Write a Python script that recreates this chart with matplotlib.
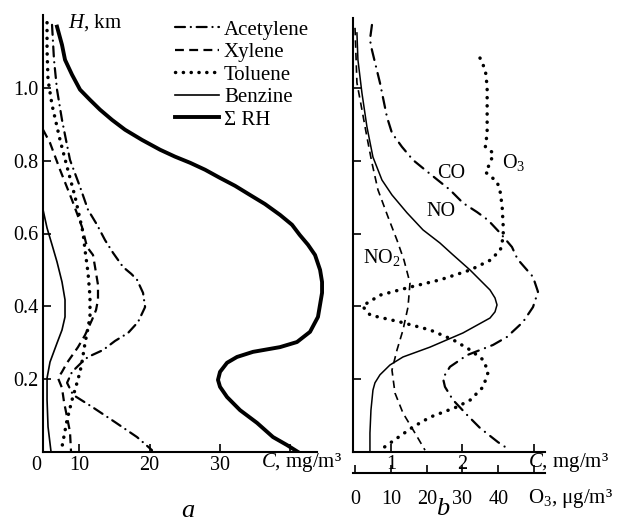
import matplotlib
matplotlib.use('Agg')
import matplotlib.pyplot as plt

plt.rcParams['font.family'] = ['Liberation Serif', 'DejaVu Serif']
plt.rcParams['mathtext.fontset'] = 'custom'
plt.rcParams['mathtext.rm'] = 'Liberation Serif'
plt.rcParams['mathtext.it'] = 'Liberation Serif:italic'

# ---- panel a: hydrocarbons, C in mg/m3, H in km ----
acet_c = [6.10, 6.38, 6.81, 7.52, 8.66, 10.09, 11.23, 12.51, 13.65, 14.79, 16.22, 17.40, 18.21,
          19.07, 19.36, 18.36, 16.94, 15.08, 13.37, 11.23, 10.37, 8.95, 8.24, 9.09, 11.80,
          15.08, 18.21, 20.35]
acet_h = [1.173, 1.077, 0.995, 0.912, 0.802, 0.728, 0.665, 0.624, 0.582, 0.547, 0.508, 0.489, 0.473,
          0.437, 0.398, 0.357, 0.327, 0.305, 0.280, 0.261, 0.247, 0.220, 0.190, 0.157, 0.124,
          0.082, 0.041, 0.005]

xyl_c = [4.82, 5.81, 7.24, 8.95, 10.37, 11.09, 11.94, 12.23, 12.65, 12.65, 12.37, 11.80,
         10.80, 9.80, 8.24, 7.52, 6.95, 7.52, 7.81, 8.24, 8.66, 8.81]
xyl_h = [0.885, 0.849, 0.775, 0.692, 0.618, 0.563, 0.541, 0.508, 0.459, 0.418, 0.390, 0.363,
         0.321, 0.288, 0.245, 0.220, 0.203, 0.176, 0.137, 0.096, 0.055, 0.0]

tol_c = [5.39, 5.39, 5.53, 6.10, 7.24, 8.24, 9.38, 10.52, 10.80, 11.23, 11.51, 11.51,
         11.09, 10.80, 10.37, 10.09, 9.66, 8.95, 8.24, 7.52]
tol_h = [1.179, 1.104, 1.022, 0.953, 0.857, 0.783, 0.701, 0.602, 0.555, 0.492, 0.426, 0.371,
         0.327, 0.299, 0.247, 0.220, 0.190, 0.143, 0.088, 0.014]

benz_c = [4.82, 5.39, 6.10, 6.81, 7.52, 7.95, 7.95, 7.52, 6.81, 5.81, 5.39, 5.39, 5.53, 5.96]
benz_h = [0.665, 0.615, 0.569, 0.522, 0.467, 0.418, 0.371, 0.335, 0.299, 0.247, 0.203, 0.143,
          0.069, 0.0]

rh_c = [6.81, 7.52, 7.95, 8.95, 10.09, 11.51, 12.94, 14.65, 16.5, 18.92, 21.5, 23.63, 25.8,
        27.92, 30.0, 32.18, 34.3, 36.44, 38.6, 40.3, 41.4, 42.58, 43.58, 44.3, 44.58, 44.58,
        44.0, 42.87, 41.01, 38.59, 34.74, 32.46, 31.04, 30.04, 29.75, 30.04, 31.04, 32.89,
        35.31, 37.59, 39.59, 41.16]
rh_h = [1.168, 1.118, 1.077, 1.036, 0.995, 0.967, 0.940, 0.912, 0.885, 0.857, 0.830, 0.811,
        0.794, 0.775, 0.753, 0.731, 0.706, 0.681, 0.651, 0.624, 0.596, 0.569, 0.541, 0.500,
        0.467, 0.437, 0.371, 0.330, 0.302, 0.288, 0.275, 0.261, 0.245, 0.220, 0.198, 0.179,
        0.151, 0.115, 0.080, 0.041, 0.019, 0.0]

# ---- panel b: NO, NO2, CO in mg/m3, O3 in ug/m3 ----
no_c = [0.524, 0.538, 0.594, 0.664, 0.748, 0.874, 1.014, 1.224, 1.448, 1.685, 1.853, 2.105,
        2.385, 2.455, 2.483, 2.455, 2.385, 2.007, 1.545, 1.168, 0.986, 0.846, 0.776, 0.748,
        0.720, 0.706, 0.706]
no_h = [1.151, 1.077, 0.986, 0.893, 0.810, 0.747, 0.706, 0.657, 0.610, 0.574, 0.544, 0.500,
        0.445, 0.423, 0.404, 0.385, 0.368, 0.327, 0.288, 0.261, 0.239, 0.212, 0.190, 0.170,
        0.115, 0.052, 0.0]

no2_c = [0.497, 0.524, 0.594, 0.664, 0.734, 0.818, 0.958, 1.084, 1.182, 1.266, 1.238, 1.168,
         1.084, 1.014, 1.056, 1.168, 1.336, 1.476]
no2_h = [1.165, 1.014, 0.940, 0.865, 0.794, 0.720, 0.646, 0.582, 0.527, 0.464, 0.398, 0.335,
         0.280, 0.225, 0.162, 0.107, 0.052, 0.005]

co_c = [0.734, 0.706, 0.734, 0.846, 0.944, 1.014, 1.154, 1.308, 1.476, 1.685, 1.825, 2.007,
        2.203, 2.357, 2.524, 2.692, 2.762, 2.804, 2.986, 3.056, 2.986, 2.846, 2.622, 2.427,
        2.245, 2.063, 1.825, 1.727, 1.755, 1.867, 2.063, 2.245, 2.497, 2.664]
co_h = [1.173, 1.132, 1.104, 1.014, 0.920, 0.876, 0.838, 0.802, 0.775, 0.742, 0.720, 0.684,
        0.659, 0.637, 0.602, 0.563, 0.533, 0.522, 0.481, 0.440, 0.398, 0.357, 0.316, 0.294,
        0.280, 0.266, 0.234, 0.203, 0.179, 0.143, 0.102, 0.066, 0.027, 0.005]

o3_v = [34.9, 36.4, 36.9, 36.9, 36.9, 36.4, 38.6, 37.8, 36.4, 39.7, 40.6, 41.1, 41.4, 41.4,
        40.6, 37.8, 32.2, 23.8, 15.4, 7.0, 2.0, 4.2, 12.6, 21.0, 27.4, 32.2, 35.8, 37.2,
        35.8, 32.2, 28.5, 21.0, 16.2, 11.7, 7.8]
o3_h = [1.082, 1.049, 1.003, 0.940, 0.876, 0.838, 0.821, 0.794, 0.769, 0.742, 0.712, 0.673,
        0.618, 0.591, 0.555, 0.527, 0.500, 0.473, 0.453, 0.431, 0.401, 0.376, 0.357, 0.335,
        0.308, 0.280, 0.253, 0.220, 0.179, 0.143, 0.124, 0.096, 0.069, 0.038, 0.011]

a_xticks = [10, 20, 30, 40]
a_xlabels = ['10', '20', '30', '']
h_ticks = [0.2, 0.4, 0.6, 0.8, 1.0]
h_labels = ['0.2', '0.4', '0.6', '0.8', '1.0']
b_xticks = [1, 2, 3]
b_xlabels = ['1', '2', '']
o3_ticks = [0, 10, 20, 30, 40, 50]
o3_labels = ['0', '10', '20', '30', '40', '']


def o3_to_c(v):
    return v / 20.0 + 0.5


def c_to_o3(c):
    return (c - 0.5) * 20.0


W, H = 619, 522
fig = plt.figure(figsize=(W / 100, H / 100), dpi=100)


def fx(px):
    return px / W


def fy(py):
    return 1 - py / H


def style_axes(ax):
    for s in ['top', 'right']:
        ax.spines[s].set_visible(False)
    for s in ['left', 'bottom']:
        ax.spines[s].set_linewidth(1.5)
    ax.tick_params(axis='both', direction='in', length=5.5, width=1.2, labelsize=14.5)
    ax.tick_params(axis='x', pad=3)
    ax.tick_params(axis='y', pad=3)


# ---------------- panel a ----------------
axa = fig.add_axes([fx(42.7), fy(452), fx(328.5) - fx(42.7), fy(15) - fy(452)])
style_axes(axa)
axa.set_xlim(4.77, 45.5)
axa.set_ylim(0, 1.2)
axa.spines['bottom'].set_bounds(4.77, 43.86)

axa.plot(acet_c, acet_h, color='k', lw=1.6, linestyle=(0, (4.5, 2.6, 0.05, 2.6)),
         dash_capstyle='round', label='Acetylene')
axa.plot(xyl_c, xyl_h, color='k', lw=1.6, linestyle=(0, (4, 2.4)), label='Xylene')
axa.plot(tol_c, tol_h, color='k', lw=2.5, linestyle=(0, (0.05, 2.2)),
         dash_capstyle='round', label='Toluene')
axa.plot(benz_c, benz_h, color='k', lw=1.2, label='Benzine')
axa.plot(rh_c, rh_h, color='k', lw=2.8, label='Σ RH')

axa.set_xticks(a_xticks)
axa.set_xticklabels(a_xlabels)
axa.set_yticks(h_ticks)
axa.set_yticklabels(h_labels)
axa.annotate('0', xy=(4.77, 0), xycoords=('data', 'axes fraction'), xytext=(-5, -3),
             textcoords='offset points', ha='center', va='top', fontsize=14.5)

leg = axa.legend(loc='upper left', bbox_to_anchor=(fx(175), fy(20)),
                 bbox_transform=fig.transFigure, frameon=False, fontsize=15,
                 handlelength=2.1, handletextpad=0.25, labelspacing=0.14,
                 borderpad=0, borderaxespad=0)

fig.text(fx(68), fy(23), '$H$, km', fontsize=15, ha='left', va='center')
fig.text(fx(261), fy(463), '$C$, mg/m³', fontsize=15, ha='left', va='center')
fig.text(fx(188), fy(511), '$a$', fontsize=19, ha='center', va='center')

# ---------------- panel b ----------------
axb = fig.add_axes([fx(353), fy(452), fx(545) - fx(353), fy(18) - fy(452)])
style_axes(axb)
axb.set_xlim(0.469, 3.154)
axb.set_ylim(0, 1.192)

o3_c = [o3_to_c(v) for v in o3_v]
axb.plot(no2_c, no2_h, color='k', lw=1.2, linestyle=(0, (4.5, 3)))
axb.plot(no_c, no_h, color='k', lw=1.1)
axb.plot(co_c, co_h, color='k', lw=1.6, linestyle=(0, (5, 3, 0.05, 3)), dash_capstyle='round')
axb.plot(o3_c, o3_h, color='k', lw=2.5, linestyle=(0, (0.05, 2.3)), dash_capstyle='round')

axb.set_xticks(b_xticks)
axb.set_xticklabels(b_xlabels)
axb.tick_params(axis='x', pad=2)
axb.set_yticks(h_ticks)
axb.set_yticklabels([])

sec = axb.secondary_xaxis(-21 / 434, functions=(c_to_o3, o3_to_c))
sec.spines['bottom'].set_linewidth(1.5)
sec.set_xticks(o3_ticks)
sec.set_xticklabels(o3_labels)
sec.tick_params(axis='x', direction='in', length=5.5, width=1.2, labelsize=14.5, pad=12)

axb.text(1.84, 0.766, 'CO', fontsize=14.5, ha='center', va='center')
axb.text(2.55, 0.795, 'O$_3$', fontsize=14.5, ha='left', va='center')
axb.text(1.70, 0.660, 'NO', fontsize=14.5, ha='center', va='center')
axb.text(0.61, 0.535, 'NO$_2$', fontsize=14.5, ha='left', va='center')

fig.text(fx(528), fy(463), '$C$, mg/m³', fontsize=15, ha='left', va='center')
fig.text(fx(528), fy(498), 'O$_3$, μg/m³', fontsize=15, ha='left', va='center')
fig.text(fx(443), fy(509), '$b$', fontsize=19, ha='center', va='center')

fig.savefig('out.png', dpi=100)
